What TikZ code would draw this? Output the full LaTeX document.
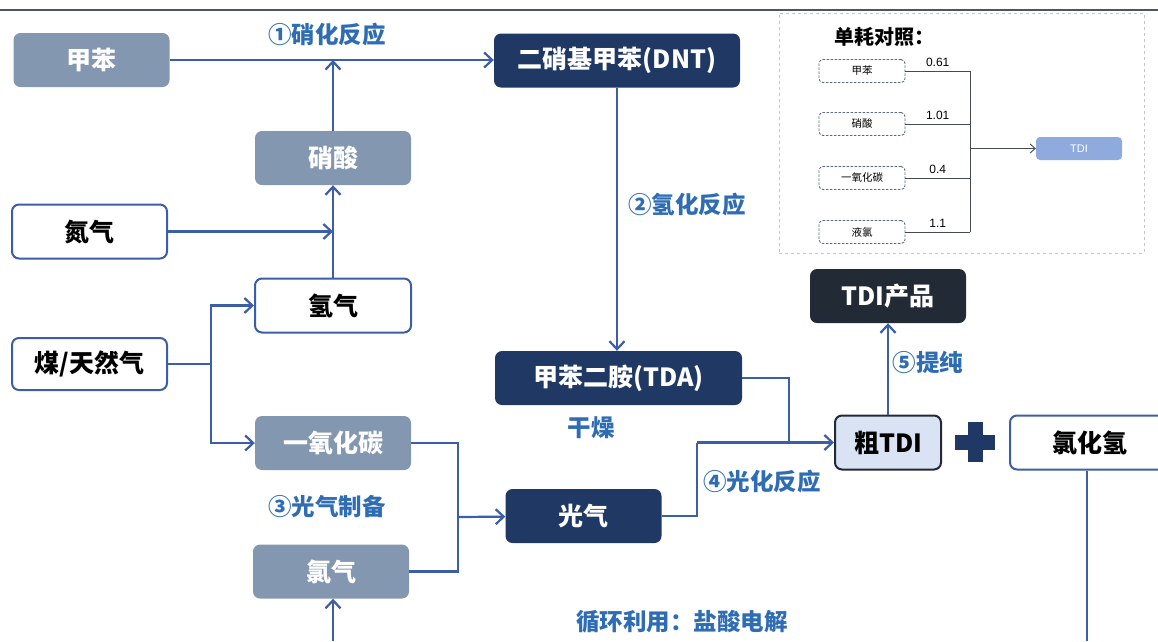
\documentclass[tikz,border=0pt]{standalone}
\usepackage{fontspec}
\setmainfont{Noto Sans CJK SC}
\newfontfamily\numfont{Liberation Sans}
\usetikzlibrary{arrows.meta}

\definecolor{boxgray}{HTML}{8497B0}
\definecolor{navy}{HTML}{203864}
\definecolor{darkbox}{HTML}{222A35}
\definecolor{lightblue}{HTML}{DAE3F3}
\definecolor{lineblue}{HTML}{3B5EA6}
\definecolor{labelblue}{HTML}{2E6DB4}
\definecolor{tdiblue}{HTML}{8FAADC}

\begin{document}
\begin{tikzpicture}[
    x=1pt, y=-1pt,
    box/.style={rounded corners=7pt, minimum width=156pt, minimum height=54pt,
      inner sep=0pt, font=\fontsize{25}{25}\selectfont\bfseries},
    graybox/.style={box, fill=boxgray, text=white},
    whitebox/.style={box, draw=lineblue, line width=2pt, fill=white, text=black},
    navybox/.style={box, fill=navy, text=white},
    lbl/.style={text=labelblue, font=\fontsize{23.5}{23.5}\selectfont\bfseries},
    link/.style={draw=lineblue, line width=2.2pt},
    flow/.style={link, -{Straight Barb[length=8pt,width=15pt]}},
    ibox/.style={draw=navy!75, dash pattern=on 2.5pt off 1.5pt, line width=0.9pt, rounded corners=4pt,
      minimum width=86pt, minimum height=23pt, inner sep=0pt, font=\fontsize{10.5}{10.5}\selectfont},
    iline/.style={draw=darkbox!85, line width=0.9pt}
  ]
  \useasboundingbox (0,0) rectangle (1158,641);
  \draw[darkbox!80, line width=1.2pt] (0,10) -- (1158,10);

  % raw materials
  \node[graybox] (toluene) at (91.5,60) {甲苯};
  \node[graybox] (nitric) at (333,158) {硝酸};
  \node[whitebox, minimum width=155pt] (nitrogen) at (89.5,231.5) {氮气};
  \node[whitebox] (hydrogen) at (333,305.5) {氢气};
  \node[whitebox, minimum width=155pt, minimum height=52pt] (coal) at (89.5,364) {煤/天然气};
  \node[graybox] (co) at (333,443) {一氧化碳};
  \node[graybox] (chlorine) at (331,571.5) {氯气};

  % intermediates and products
  \node[navybox, minimum width=246pt] (dnt) at (617,60.5) {二硝基甲苯(DNT)};
  \node[navybox, minimum width=247pt] (tda) at (618.5,378) {甲苯二胺(TDA)};
  \node[navybox] (phosgene) at (583.5,516) {光气};
  \node[box, fill=darkbox, text=white] (tdi) at (888,296) {TDI产品};
  \node[box, minimum width=106pt, fill=lightblue, draw=darkbox, line width=2pt] (crude) at (888,442.5) {粗TDI};
  \node[whitebox, minimum width=160pt, anchor=west] (hcl) at (1009,442.5) {氯化氢};
  \fill[navy] (955,435) rectangle (995,450);
  \fill[navy] (968,422) rectangle (983,462);

  % connectors
  \coordinate (nitroin) at (nitric.north |- toluene.east);
  \coordinate (split) at (211,364);
  \coordinate (cojoin) at (458,517);
  \coordinate (clin) at (333,641);
  \coordinate (tdajoin) at (789,442.5);
  \coordinate (phosjoin) at (697,442.5);
  \coordinate (hclout) at (1087,641);
  \draw[flow] (toluene.east) -- (toluene.east -| dnt.west);
  \draw[flow] (nitric) -- (nitroin);
  \draw[flow] (hydrogen) -- (nitric);
  \draw[flow] (nitrogen) -- (nitrogen -| hydrogen.north);
  \draw[link] (coal) -- (split);
  \draw[flow] (split) |- (hydrogen);
  \draw[flow] (split) |- (co);
  \draw[link] (co) -| (cojoin);
  \draw[link] (chlorine) -| (cojoin);
  \draw[flow] (cojoin) -- (phosgene);
  \draw[flow] (clin) -- (clin |- chlorine.south);
  \draw[flow] (dnt.south) -- (dnt.south |- tda.north);
  \draw[link] (tda) -| (tdajoin);
  \draw[link] (phosgene) -| (phosjoin);
  \draw[flow] (phosjoin) -- (crude);
  \draw[flow] (crude) -- (tdi);
  \draw[link] (hcl.south -| hclout) -- (hclout);

  % step labels
  \node[lbl] (nitration) at (327,35) {①硝化反应};
  \node[lbl] (hydrogenation) at (687,205) {②氢化反应};
  \node[lbl] (phosprep) at (327,507) {③光气制备};
  \node[lbl] (phosgenation) at (762,482) {④光化反应};
  \node[lbl] (purify) at (928,362) {⑤提纯};
  \node[lbl] (drying) at (591,428) {干燥};
  \node[lbl] (recycle) at (682,622) {循环利用：盐酸电解};

  % unit consumption inset
  \node[draw=gray!45, dashed, minimum width=365pt, minimum height=240pt] (inset) at (961.5,133) {};
  \node[font=\fontsize{20}{20}\selectfont\bfseries] (insettitle) at (884,37) {单耗对照：};
  \node[rounded corners=4pt, fill=tdiblue, text=white, minimum width=86pt, minimum height=23pt,
    font=\numfont\fontsize{11}{11}\selectfont] (itdi) at (1079,148.5) {TDI};
  \foreach \name/\txt/\yy/\val in {a/甲苯/71/0.61, b/硝酸/124/1.01, c/一氧化碳/178/0.4, d/液氯/232/1.1} {
    \node[ibox] (in\name) at (862,\yy) {\txt};
    \coordinate (j\name) at (970,\yy);
    \draw[iline] (in\name) -- (j\name) node[midway, above=1pt, font=\numfont\fontsize{12}{12}\selectfont] {\val};
  }
  \coordinate (jmid) at (970,148.5);
  \draw[iline] (ja) -- (jd);
  \draw[iline, -{Straight Barb[length=5pt,width=9pt]}] (jmid) -- (itdi);
\end{tikzpicture}
\end{document}
